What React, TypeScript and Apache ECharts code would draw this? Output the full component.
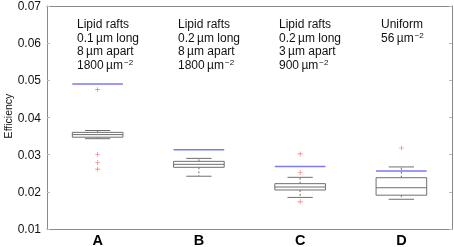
import React, { useEffect, useRef } from "react";
import * as echarts from "echarts";

const categories = ["A", "B", "C", "D"];
// [min, q1, median, q3, max]
const boxValues = [
  [0.0343, 0.0347, 0.0354, 0.036, 0.0365],
  [0.0242, 0.0266, 0.0274, 0.0282, 0.029],
  [0.0185, 0.0205, 0.0213, 0.0222, 0.0239],
  [0.018, 0.0191, 0.0211, 0.0238, 0.0267],
];
const referenceValues = [0.049, 0.0313, 0.0268, 0.0256];
const outliers = [
  [0, 0.0475],
  [0, 0.0301],
  [0, 0.0279],
  [0, 0.0261],
  [2, 0.0302],
  [2, 0.0252],
  [2, 0.0173],
  [3, 0.0318],
];
const yTicks = [0.01, 0.02, 0.03, 0.04, 0.05, 0.06, 0.07];
const yTitle = "Efficiency";
const annotations = [
  ["Lipid rafts", "0.1\u2009µm long", "8\u2009µm apart", "1800\u2009µm{s|−2}"],
  ["Lipid rafts", "0.2\u2009µm long", "8\u2009µm apart", "1800\u2009µm{s|−2}"],
  ["Lipid rafts", "0.2\u2009µm long", "3\u2009µm apart", "900\u2009µm{s|−2}"],
  ["Uniform", "56\u2009µm{s|−2}"],
];

const FONT = "'Liberation Sans', Arial, Helvetica, sans-serif";

export default function App() {
  const ref = useRef<HTMLDivElement>(null);
  useEffect(() => {
    if (!ref.current) return;
    const chart = echarts.init(ref.current, undefined, { renderer: "svg" });
    const left = 47;
    const right = 2;
    const top = 5;
    const bottom = 17;
    const annX = [77, 178, 279, 381];

    const boxData = boxValues.map((b, i) => [i, ...b, referenceValues[i]]);

    const graphics: any[] = annotations.map((lines, i) => ({
      type: "text",
      left: annX[i],
      top: 17.5,
      silent: true,
      style: {
        text: lines.join("\n"),
        font: `12px ${FONT}`,
        fill: "#111",
        lineHeight: 13.5,
        rich: {
          s: { fontSize: 8, fontFamily: FONT, fill: "#111", verticalAlign: "top", padding: [0, 0, 5, 1], lineHeight: 13.5 },
        },
      },
    }));
    graphics.push({
      type: "text",
      x: 8,
      y: 116,
      rotation: Math.PI / 2,
      silent: true,
      style: {
        text: yTitle,
        font: `10.5px ${FONT}`,
        fill: "#111",
        align: "center",
        verticalAlign: "middle",
      },
    });

    const axisLineStyle = { color: "#8a8a8a", width: 1 };

    chart.setOption({
      animation: false,
      grid: { left, right, top, bottom, containLabel: false },
      xAxis: [
        {
          type: "category",
          data: categories,
          boundaryGap: true,
          axisLine: { lineStyle: axisLineStyle },
          axisTick: { inside: true, alignWithLabel: true, length: 3, lineStyle: { color: "#bbb" } },
          axisLabel: { fontFamily: FONT, fontSize: 14.5, fontWeight: "bold", color: "#000", margin: 3 },
          splitLine: { show: false },
        },
        {
          type: "category",
          data: categories,
          position: "top",
          boundaryGap: true,
          axisLine: { lineStyle: axisLineStyle },
          axisTick: { inside: true, alignWithLabel: true, length: 3, lineStyle: { color: "#bbb" } },
          axisLabel: { show: false },
        },
      ],
      yAxis: [
        {
          type: "value",
          min: yTicks[0],
          max: yTicks[yTicks.length - 1],
          interval: 0.01,
          axisLine: { show: true, lineStyle: axisLineStyle },
          axisTick: { show: true, inside: true, length: 3, lineStyle: { color: "#bbb" } },
          axisLabel: {
            fontFamily: FONT,
            fontSize: 12,
            color: "#111",
            margin: 6,
            formatter: (v: number) => v.toFixed(2),
          },
          splitLine: { show: false },
        },
        {
          type: "value",
          position: "right",
          min: yTicks[0],
          max: yTicks[yTicks.length - 1],
          interval: 0.01,
          axisLine: { show: true, lineStyle: axisLineStyle },
          axisTick: { show: true, inside: true, length: 3, lineStyle: { color: "#bbb" } },
          axisLabel: { show: false },
          splitLine: { show: false },
        },
      ],
      series: [
        {
          type: "custom",
          xAxisIndex: 0,
          yAxisIndex: 0,
          data: boxData,
          renderItem: (params: any, api: any) => {
            const x = api.value(0);
            const pMin = api.coord([x, api.value(1)]);
            const pQ1 = api.coord([x, api.value(2)]);
            const pMed = api.coord([x, api.value(3)]);
            const pQ3 = api.coord([x, api.value(4)]);
            const pMax = api.coord([x, api.value(5)]);
            const pRef = api.coord([x, api.value(6)]);
            const bw = api.size([1, 0])[0] * 0.5;
            const cx = pMed[0];
            const stroke = "#6f6f6f";
            const ls = { stroke, lineWidth: 1, fill: "none" };
            return {
              type: "group",
              children: [
                { type: "line", shape: { x1: cx, y1: pQ3[1], x2: cx, y2: pMax[1] }, style: { ...ls, lineDash: [2, 2] } },
                { type: "line", shape: { x1: cx, y1: pQ1[1], x2: cx, y2: pMin[1] }, style: { ...ls, lineDash: [2, 2] } },
                { type: "line", shape: { x1: cx - bw / 4, y1: pMax[1], x2: cx + bw / 4, y2: pMax[1] }, style: ls },
                { type: "line", shape: { x1: cx - bw / 4, y1: pMin[1], x2: cx + bw / 4, y2: pMin[1] }, style: ls },
                {
                  type: "rect",
                  shape: { x: cx - bw / 2, y: pQ3[1], width: bw, height: pQ1[1] - pQ3[1] },
                  style: { stroke, lineWidth: 1, fill: "#fff" },
                },
                { type: "line", shape: { x1: cx - bw / 2, y1: pMed[1], x2: cx + bw / 2, y2: pMed[1] }, style: ls },
                {
                  type: "line",
                  shape: { x1: cx - bw / 2, y1: pRef[1], x2: cx + bw / 2, y2: pRef[1] },
                  style: { stroke: "#7a7af2", lineWidth: 1.5 },
                },
              ],
            };
          },
          z: 2,
        },
        {
          type: "scatter",
          xAxisIndex: 0,
          yAxisIndex: 0,
          data: outliers,
          symbol: "path://M4.4,0H5.6V10H4.4ZM0,4.4H10V5.6H0Z",
          symbolSize: 5,
          itemStyle: { color: "#ff4d4d", opacity: 0.85 },
          z: 3,
        },
      ],
      graphic: graphics,
    });
    return () => chart.dispose();
  }, []);
  return <div ref={ref} style={{ position: "fixed", left: 0, top: 0, width: 454, height: 247 }} />;
}
